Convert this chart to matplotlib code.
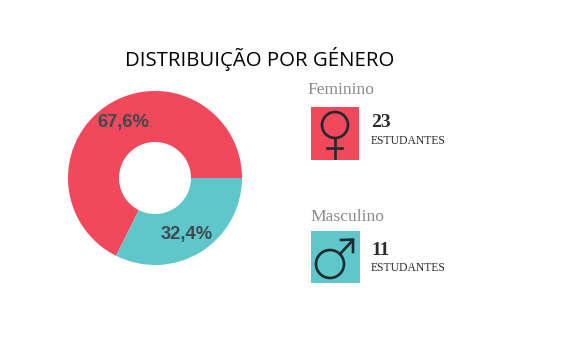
import matplotlib
matplotlib.use('Agg')
import matplotlib.pyplot as plt
from matplotlib.patches import Circle, Rectangle

# dados
generos = ['Feminino', 'Masculino']
percentagens = [67.6, 32.4]
rotulos = ['67,6%', '32,4%']
estudantes = [23, 11]

VERMELHO = '#f2485c'
TURQUESA = '#5fc7cb'
ESCURO = '#1d2a2e'
W, H = 570, 360

fig = plt.figure(figsize=(W / 100, H / 100), dpi=100)

# eixo de fundo em pixeis
bg = fig.add_axes([0, 0, 1, 1])
bg.set_xlim(0, W)
bg.set_ylim(H, 0)
bg.axis('off')

# --- Donut ---
cx, cy, r = 155, 178, 87
ax = fig.add_axes([(cx - r) / W, 1 - (cy + r) / H, 2 * r / W, 2 * r / H])
ax.pie(percentagens, colors=[VERMELHO, TURQUESA], startangle=0, radius=1,
       wedgeprops=dict(width=1 - 36 / 87))
ax.set_xlim(-1, 1)
ax.set_ylim(-1, 1)
for (px, py), rot in zip([(123, 123), (187, 235)], rotulos):
    bg.text(px, py, rot, ha='center', va='center', fontsize=13.2, fontweight='bold',
            family='Liberation Sans', color='#3c4a4e', zorder=5)
ax.set_zorder(0)
bg.set_zorder(1)
bg.patch.set_alpha(0)

# --- Titulo ---
bg.text(260, 59, 'DISTRIBUIÇÃO POR GÉNERO', ha='center', va='center', fontsize=14.7,
        family='Open Sans', color='black')

# --- Feminino ---
bg.text(307, 94, generos[0], ha='left', va='baseline', fontsize=12.6,
        family='Liberation Serif', color='#8a8a8a')
bg.add_patch(Rectangle((311, 107), 48, 53, color=VERMELHO, lw=0))
bg.add_patch(Circle((335, 125), 13, fill=False, ec=ESCURO, lw=1.9))
bg.plot([335, 335], [138, 158], color=ESCURO, lw=1.9)
bg.plot([327, 342], [148, 148], color=ESCURO, lw=1.9)
bg.text(371, 127, str(estudantes[0]), ha='left', va='baseline', fontsize=14, fontweight='bold',
        family='Liberation Serif', color='#2b2b2b')
bg.text(371, 144, 'ESTUDANTES', ha='left', va='baseline', fontsize=8.4,
        family='Liberation Serif', color='#2b2b2b')

# --- Masculino ---
bg.text(310, 221, generos[1], ha='left', va='baseline', fontsize=12.6,
        family='Liberation Serif', color='#8a8a8a')
bg.add_patch(Rectangle((311, 231), 49, 52, color=TURQUESA, lw=0))
bg.add_patch(Circle((330, 264), 14, fill=False, ec=ESCURO, lw=1.9))
bg.plot([340, 353], [254, 240], color=ESCURO, lw=1.9)
bg.plot([341, 353, 353], [240, 239.5, 252], color=ESCURO, lw=1.9)
bg.text(371, 255, str(estudantes[1]), ha='left', va='baseline', fontsize=14, fontweight='bold',
        family='Liberation Serif', color='#2b2b2b')
bg.text(371, 271, 'ESTUDANTES', ha='left', va='baseline', fontsize=8.4,
        family='Liberation Serif', color='#2b2b2b')

plt.savefig('out.png', dpi=100)
